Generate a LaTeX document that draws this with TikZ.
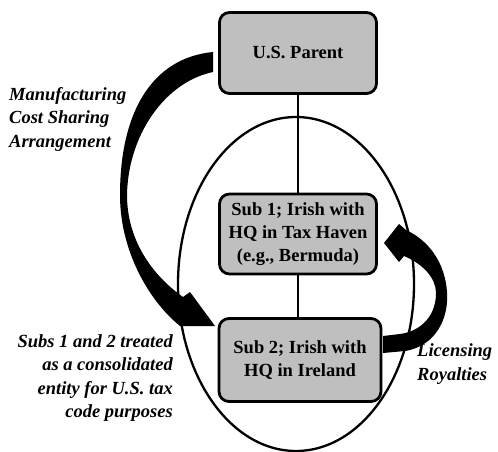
\documentclass[tikz,border=0pt]{standalone}
\usepackage{fontspec}
\setmainfont{Liberation Serif}
\begin{document}
\begin{tikzpicture}[x=1pt,y=-1pt,
  box/.style={draw=black, line width=2.8pt, rounded corners=10pt, fill=black!25,
    align=center, font=\fontsize{18.5}{23}\selectfont\bfseries, inner sep=2pt},
  lab/.style={font=\fontsize{18.5}{23.5}\selectfont\bfseries\itshape, inner sep=0pt},
  link/.style={line width=2pt},
  bigarrow/.style={fill=black}]
\useasboundingbox (0,0) rectangle (498,452);
% consolidated entity
\draw[line width=2.3pt] (296,284) ellipse [x radius=118, y radius=167];
% boxes
\node[box, minimum width=157pt, minimum height=81pt] (parent) at (298,53) {U.S. Parent};
\node[box, minimum width=157pt, minimum height=80pt] (sub1) at (298,234) {Sub 1; Irish with\\HQ in Tax Haven\\(e.g., Bermuda)};
\node[box, minimum width=162pt, minimum height=83pt] (sub2) at (300,360) {Sub 2; Irish with\\HQ in Ireland};
\draw[link] (parent.south) -- (sub1.north);
\draw[link] (sub1.south) -- (sub1.south |- sub2.north);
% manufacturing cost sharing arrow
\fill[bigarrow] (213,52) .. controls (152,58) and (120,112) .. (120,195)
  .. controls (120,250) and (148,300) .. (180,326) -- (215,326) -- (190,292) -- (183,297)
  .. controls (152,275) and (127,240) .. (127,195)
  .. controls (128,135) and (165,82) .. (213,72) -- cycle;
% licensing royalties arrow
\fill[bigarrow] (383,336) -- (383,353) -- (405,351) .. controls (436,346) and (449,318) .. (447,292)
  .. controls (445,262) and (428,240) .. (406,230) -- (399,224) -- (384,243) -- (399,262) -- (404,256)
  .. controls (423,264) and (436,278) .. (436,293)
  .. controls (436,315) and (422,331) .. (400,334) -- cycle;
% labels
\node[lab, anchor=west, align=left] (mcsa) at (9,119) {Manufacturing\\Cost Sharing\\Arrangement};
\node[lab, anchor=east, align=right] (subs) at (173,378) {Subs 1 and 2 treated\\as a consolidated\\entity for U.S. tax\\code purposes};
\node[lab, anchor=west, align=left] (lic) at (417,364) {Licensing\\Royalties};
\end{tikzpicture}
\end{document}
